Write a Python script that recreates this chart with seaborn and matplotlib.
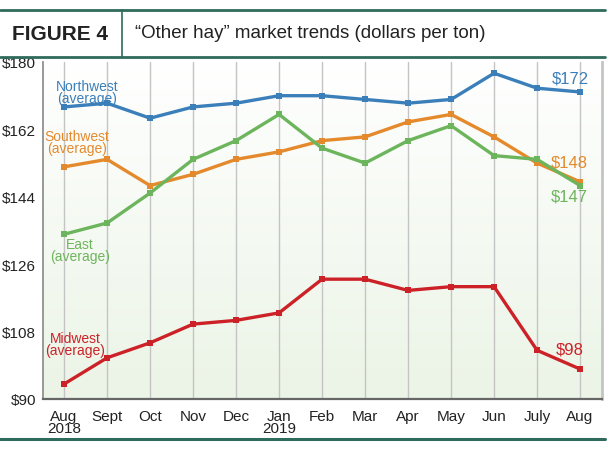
from matplotlib import pyplot as plt
import matplotlib.lines as mlines
import seaborn as sns
import numpy as np
import pandas as pd

# данные с графика
months = ['Aug\n2018', 'Sept', 'Oct', 'Nov', 'Dec', 'Jan\n2019', 'Feb', 'Mar',
          'Apr', 'May', 'Jun', 'July', 'Aug']
northwest = [168, 169, 165, 168, 169, 171, 171, 170, 169, 170, 177, 173, 172]
southwest = [152, 154, 147, 150, 154, 156, 159, 160, 164, 166, 160, 153, 148]
east = [134, 137, 145, 154, 159, 166, 157, 153, 159, 163, 155, 154, 147]
midwest = [94, 101, 105, 110, 111, 113, 122, 122, 119, 120, 120, 103, 98]
y_ticks = [90, 108, 126, 144, 162, 180]

colors = {'Northwest': '#3b7fba', 'Southwest': '#e48a2c',
          'East': '#6db55c', 'Midwest': '#cd2128'}

rows = []
for name, vals in [('Northwest', northwest), ('Southwest', southwest),
                   ('East', east), ('Midwest', midwest)]:
    for i, v in enumerate(vals):
        rows.append({'region': name, 'idx': i, 'price': v})
df = pd.DataFrame(rows)

sns.set_style('white')
plt.rcParams['font.family'] = ['Liberation Sans', 'DejaVu Sans']

fig = plt.figure(figsize=(6.1, 4.52), dpi=100)
ax = fig.add_axes([43 / 610, 1 - 400 / 452, (602 - 43) / 610, (400 - 63) / 452])

# фон с градиентом
grad = np.linspace(0, 1, 256).reshape(-1, 1)
ax.imshow(grad, extent=[-0.49, 12.51, 90, 180], aspect='auto', origin='upper',
          cmap=sns.blend_palette(['#ffffff', '#ebf4e6'], as_cmap=True), zorder=0)

for i in range(len(months)):
    ax.axvline(i, color='#c4c4c4', lw=1, zorder=1)

sns.lineplot(data=df, x='idx', y='price', hue='region', palette=colors,
             marker='s', markersize=5, markeredgewidth=0, linewidth=2.4,
             legend=False, ax=ax, zorder=3)

ax.set_xlim(-0.49, 12.51)
ax.set_ylim(90, 180)
ax.set_xticks(range(len(months)))
ax.set_xticklabels(months, fontsize=11, color='#222222', linespacing=0.8)
ax.set_yticks(y_ticks)
ax.set_yticklabels([f'${t}' for t in y_ticks], fontsize=11, color='#222222')
ax.set_xlabel('')
ax.set_ylabel('')
ax.tick_params(axis='x', length=4, width=1, color='#777777', pad=3)
ax.tick_params(axis='y', length=0, pad=5)
ax.spines['top'].set_visible(False)
ax.spines['bottom'].set_color('#666666')
ax.spines['bottom'].set_linewidth(1.6)
ax.spines['left'].set_color('#999999')
ax.spines['left'].set_linewidth(1.4)
ax.spines['right'].set_color('#c4c4c4')
ax.spines['right'].set_linewidth(2)

# подписи серий
lab = dict(ha='center', va='center', fontsize=10, linespacing=0.85)
ax.text(0.53, 172, 'Northwest\n(average)', color=colors['Northwest'], **lab)
ax.text(0.30, 158.6, 'Southwest\n(average)', color=colors['Southwest'], **lab)
ax.text(0.37, 129.8, 'East\n(average)', color=colors['East'], **lab)
ax.text(0.26, 104.7, 'Midwest\n(average)', color=colors['Midwest'], **lab)
val = dict(ha='center', va='center', fontsize=12)
ax.text(11.77, 175.7, '$172', color=colors['Northwest'], **val)
ax.text(11.74, 153.3, '$148', color=colors['Southwest'], **val)
ax.text(11.74, 144.2, '$147', color=colors['East'], **val)
ax.text(11.77, 103.3, '$98', color=colors['Midwest'], **val)

# шапка
teal = '#2f6b5c'
fig.add_artist(mlines.Line2D([0, 605 / 610], [1 - 11 / 452] * 2, color=teal, lw=2))
fig.add_artist(mlines.Line2D([0, 605 / 610], [1 - 58 / 452] * 2, color=teal, lw=2))
fig.add_artist(mlines.Line2D([122 / 610] * 2, [1 - 58 / 452, 1 - 11 / 452], color=teal, lw=1.2))
fig.add_artist(mlines.Line2D([0, 605 / 610], [1 - 440 / 452] * 2, color=teal, lw=2.2))
fig.text(12 / 610, 1 - 34 / 452, 'FIGURE 4', fontsize=15, fontweight='bold',
         color='#222222', va='center')
fig.text(135 / 610, 1 - 34 / 452, '\u201cOther hay\u201d market trends (dollars per ton)',
         fontsize=13.5, color='#222222', va='center')

plt.savefig('out.png', dpi=100)
